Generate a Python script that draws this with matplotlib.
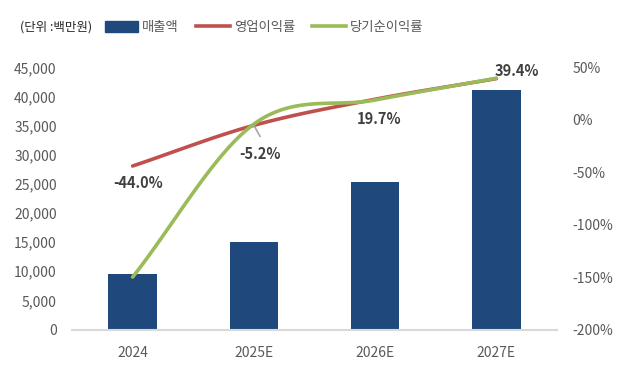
import matplotlib
matplotlib.use('Agg')
import matplotlib.pyplot as plt
import numpy as np
from matplotlib.lines import Line2D
from matplotlib.patches import Patch
from matplotlib.ticker import FuncFormatter, MultipleLocator

plt.rcParams['font.family'] = ['Noto Sans CJK KR', 'DejaVu Sans']

years = ['2024', '2025E', '2026E', '2027E']
sales = [9600, 15100, 25400, 41200]          # 매출액 (백만원)
op_margin = [-44.0, -5.2, 19.7, 39.4]        # 영업이익률 (%)
net_margin = [-150.0, -4.0, 19.0, 39.8]      # 당기순이익률 (%)
op_labels = ['-44.0%', '-5.2%', '19.7%', '39.4%']
label_offsets = [(4, -12.5), (4.5, -20.7), (2.9, -14.4), (14.8, 5.3)]  # points

BAR = '#1F497D'
RED = '#C0504D'
GREEN = '#9BBB59'
GREY = '#595959'


def smooth(x, y, n=40):
    # Catmull-Rom style smoothing, like Excel's smoothed line
    x = np.asarray(x, float)
    y = np.asarray(y, float)
    px = np.concatenate([[2 * x[0] - x[1]], x, [2 * x[-1] - x[-2]]])
    py = np.concatenate([[2 * y[0] - y[1]], y, [2 * y[-1] - y[-2]]])
    xs, ys = [], []
    t = np.linspace(0, 1, n)
    for i in range(1, len(px) - 2):
        for arr, out in ((px, xs), (py, ys)):
            p0, p1, p2, p3 = arr[i - 1], arr[i], arr[i + 1], arr[i + 2]
            c1 = p1 + (p2 - p0) / 6
            c2 = p2 - (p3 - p1) / 6
            out.extend((1 - t) ** 3 * p1 + 3 * (1 - t) ** 2 * t * c1
                       + 3 * (1 - t) * t ** 2 * c2 + t ** 3 * p2)
    return np.array(xs), np.array(ys)


fig = plt.figure(figsize=(6.28, 3.74), dpi=100)
ax = fig.add_axes([72 / 628, 1 - 329.5 / 374, 485 / 628, 262 / 374])
x = np.arange(len(years))

ax.bar(x, sales, width=0.40, color=BAR, zorder=2)
ax.set_xlim(-0.5, 3.5)
ax.set_ylim(0, 45000)
ax.yaxis.set_major_locator(MultipleLocator(5000))
ax.yaxis.set_major_formatter(FuncFormatter(lambda v, p: '{:,.0f}'.format(v)))
ax.set_xticks(x)
ax.set_xticklabels(years)

ax2 = ax.twinx()
ax2.set_ylim(-200, 50)
ax2.yaxis.set_major_locator(MultipleLocator(50))
ax2.yaxis.set_major_formatter(FuncFormatter(lambda v, p: '{:.0f}%'.format(v)))

sx, sy = smooth(x, op_margin)
ax2.plot(sx, sy, color=RED, lw=2.6, solid_capstyle='round', zorder=3)
sx, sy = smooth(x, net_margin)
ax2.plot(sx, sy, color=GREEN, lw=2.6, solid_capstyle='round', zorder=4)

for i, (lab, off) in enumerate(zip(op_labels, label_offsets)):
    ax2.annotate(lab, (x[i], op_margin[i]), xytext=off,
                 textcoords='offset points', ha='center', va='center',
                 fontsize=10.5, fontweight='bold', color='#404040', zorder=5)
# leader line for -5.2%
ax2.annotate('', (x[1], op_margin[1]), xytext=(4.5, -8),
             textcoords='offset points',
             arrowprops=dict(arrowstyle='-', color='#A6A6A6', lw=1.2,
                             shrinkA=0, shrinkB=0), zorder=5)

for a in (ax, ax2):
    for s in a.spines.values():
        s.set_visible(False)
    a.tick_params(length=0, labelsize=10, labelcolor=GREY)
ax.spines['bottom'].set_visible(True)
ax.spines['bottom'].set_color('#D9D9D9')
ax.spines['bottom'].set_linewidth(1.5)
ax.tick_params(axis='y', pad=11)
ax.tick_params(axis='x', pad=12)
ax2.tick_params(axis='y', pad=11)

fig.text(20 / 628, 1 - 27 / 374, '(단위 :백만원)', fontsize=9,
         color='#262626', va='center', ha='left')
handles = [Patch(color=BAR), Line2D([], [], color=RED, lw=2.6),
           Line2D([], [], color=GREEN, lw=2.6)]
fig.legend(handles, ['매출액', '영업이익률', '당기순이익률'], ncol=3,
           loc='center left', bbox_to_anchor=(105 / 628, 1 - 27 / 374),
           frameon=False, fontsize=9.6, labelcolor=GREY, handlelength=2.5,
           handleheight=0.9, handletextpad=0.3, columnspacing=1.3,
           borderpad=0, borderaxespad=0)

fig.savefig('out.png', dpi=100)
